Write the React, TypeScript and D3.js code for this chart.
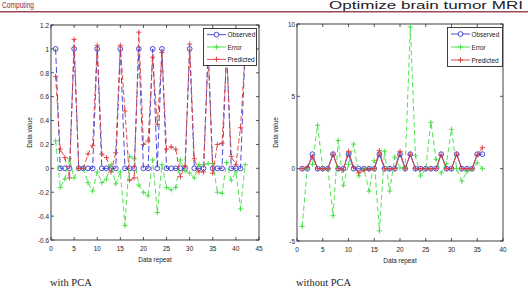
import React, { useRef, useEffect } from "react";
import * as d3 from "d3";

// with PCA (repeats 1..42)
const leftObserved = [1, 0, 0, 0, 1, 0, 0, 0, 0, 1, 0, 0, 0, 0, 1, 0, 0, 0, 1, 0, 0, 1, 0, 1, 0, 0, 0, 0, 0, 1, 0, 0, 0, 1, 0, 0, 0, 1, 0, 0, 0, 1];
const leftPredicted = [0.77, 0.16, 0.09, -0.08, 1.08, 0.0, 0.0, 0.12, 0.19, 1.03, 0.12, 0.09, -0.03, 0.13, 1.03, 0.48, -0.1, -0.08, 1.14, 0.2, 0.23, 0.93, 0.37, 0.97, 0.16, 0.18, 0.16, -0.07, 0.02, 1.04, 0.08, -0.03, -0.03, 0.96, -0.04, 0.2, 0.21, 0.95, 0.1, 0.03, 0.34, 0.97];
const leftError = [0.23, -0.16, -0.09, 0.08, -0.08, 0.0, 0.0, -0.12, -0.19, -0.03, -0.12, -0.09, 0.03, -0.13, -0.03, -0.48, 0.1, 0.08, -0.14, -0.2, -0.23, 0.07, -0.37, 0.03, -0.16, -0.18, -0.16, 0.07, -0.02, -0.04, -0.08, 0.03, 0.03, 0.04, 0.04, -0.2, -0.21, 0.05, -0.1, -0.03, -0.34, 0.03];

// without PCA (repeats 1..36)
const rightObserved = [0, 0, 1, 0, 0, 0, 1, 0, 0, 1, 0, 0, 0, 0, 0, 1, 0, 0, 0, 1, 0, 1, 0, 0, 0, 0, 0, 1, 0, 0, 1, 0, 0, 0, 1, 1];
const rightPredicted = [0.0, 0.1, 0.8, 0.0, 0.0, 0.0, 1.0, 0.0, -0.1, 1.2, 0.1, -0.3, -0.1, -0.05, 0.0, 1.25, 0.0, 0.0, 0.0, 1.2, 0.0, 1.0, 0.0, 0.0, 0.0, 0.0, 0.0, 0.95, 0.0, 0.0, 1.0, 0.0, 0.0, 0.0, 0.95, 1.45];
const rightError = [-4.0, 0.0, 0.3, 3.0, 0.0, 0.0, -3.25, 1.95, -1.15, 0.3, 1.7, -0.5, 0.0, -1.55, 0.55, -4.3, 1.2, -1.55, 0.8, 0.05, 0.1, 9.8, 0.9, -0.5, 0.0, 3.2, 0.65, -0.3, 0.35, 2.72, 0.0, -0.86, -0.2, 0.0, 0.4, 0.0];

const leftXTicks = [0, 5, 10, 15, 20, 25, 30, 35, 40, 45];
const leftYTicks = [-0.6, -0.4, -0.2, 0, 0.2, 0.4, 0.6, 0.8, 1, 1.2];
const rightXTicks = [0, 5, 10, 15, 20, 25, 30, 35, 40];
const rightYTicks = [-5, 0, 5, 10];

const seriesNames = ["Observed", "Error", "Predicted"];
const captions = ["with PCA", "without PCA"];
const xTitle = "Data repeat";
const yTitle = "Data value";
const headerLeft = "Computing";
const headerRight = "Optimize brain tumor MRI";

const BLUE = "#3535d2";
const GREEN = "#3ede3e";
const RED = "#da3c3c";
const AXIS = "#2b2b2b";
const SANS = "'Liberation Sans', Arial, sans-serif";

type Sel = d3.Selection<any, unknown, null, undefined>;

type Panel = {
  observed: number[];
  predicted: number[];
  error: number[];
  xDomain: [number, number];
  yDomain: [number, number];
  xRange: [number, number];
  yRange: [number, number];
  xTicks: number[];
  yTicks: number[];
  solidFit: boolean;
  legend: { x: number; y: number; w: number; h: number };
  caption: string;
  captionX: number;
};

const panels: Panel[] = [
  {
    observed: leftObserved,
    predicted: leftPredicted,
    error: leftError,
    xDomain: [0, 45],
    yDomain: [-0.6, 1.2],
    xRange: [51, 259],
    yRange: [240, 25],
    xTicks: leftXTicks,
    yTicks: leftYTicks,
    solidFit: false,
    legend: { x: 203.5, y: 28.5, w: 53, h: 37 },
    caption: captions[0],
    captionX: 50,
  },
  {
    observed: rightObserved,
    predicted: rightPredicted,
    error: rightError,
    xDomain: [0, 40],
    yDomain: [-5, 10],
    xRange: [297, 503],
    yRange: [241, 24],
    xTicks: rightXTicks,
    yTicks: rightYTicks,
    solidFit: true,
    legend: { x: 447.5, y: 27.5, w: 55, h: 39 },
    caption: captions[1],
    captionX: 296,
  },
];

const plusPath = (s: number) => `M${-s},0H${s}M0,${-s}V${s}`;

// narrow axis lettering, squeezed horizontally
function narrowText(g: Sel, x: number, y: number, txt: string, anchor = "middle", rotate = 0) {
  return g.append("text")
    .attr("transform", `translate(${x},${y}) rotate(${rotate}) scale(0.8,1)`)
    .attr("text-anchor", anchor)
    .attr("font-size", 8)
    .attr("font-family", SANS)
    .attr("fill", "#222")
    .text(txt);
}

function drawPanel(svg: Sel, p: Panel) {
  const x = d3.scaleLinear().domain(p.xDomain).range(p.xRange);
  const y = d3.scaleLinear().domain(p.yDomain).range(p.yRange);
  const g = svg.append("g");
  const [x0, x1] = p.xRange;
  const [yb, yt] = p.yRange;

  // frame with inward ticks on all four sides
  g.append("rect")
    .attr("x", x0).attr("y", yt)
    .attr("width", x1 - x0).attr("height", yb - yt)
    .attr("fill", "#fff").attr("stroke", AXIS).attr("stroke-width", 0.9);

  const tickLen = 3;
  p.xTicks.forEach((t) => {
    const px = x(t);
    g.append("line").attr("x1", px).attr("x2", px).attr("y1", yb).attr("y2", yb - tickLen).attr("stroke", AXIS).attr("stroke-width", 0.8);
    g.append("line").attr("x1", px).attr("x2", px).attr("y1", yt).attr("y2", yt + tickLen).attr("stroke", AXIS).attr("stroke-width", 0.8);
    narrowText(g, px, yb + 10.5, String(t));
  });
  p.yTicks.forEach((t) => {
    const py = y(t);
    g.append("line").attr("x1", x0).attr("x2", x0 + tickLen).attr("y1", py).attr("y2", py).attr("stroke", AXIS).attr("stroke-width", 0.8);
    g.append("line").attr("x1", x1).attr("x2", x1 - tickLen).attr("y1", py).attr("y2", py).attr("stroke", AXIS).attr("stroke-width", 0.8);
    narrowText(g, x0 - 2, py + 2.8, String(+t.toFixed(1)), "end");
  });

  narrowText(g, (x0 + x1) / 2, yb + 21.5, xTitle);
  narrowText(g, x0 - 19, (yb + yt) / 2, yTitle, "middle", -90);

  const line = d3.line<number>().x((d, i) => x(i + 1)).y((d) => y(d));

  const series = [
    { data: p.observed, color: BLUE, dash: p.solidFit ? null : "6,3", marker: "circle" },
    { data: p.error, color: GREEN, dash: "5,3", marker: "plus" },
    { data: p.predicted, color: RED, dash: p.solidFit ? null : "5,2.5", marker: "plus" },
  ];

  series.forEach((s) => {
    g.append("path").datum(s.data).attr("d", line)
      .attr("fill", "none").attr("stroke", s.color).attr("stroke-width", 0.9)
      .attr("stroke-dasharray", s.dash);
    const marks = g.append("g").selectAll("g").data(s.data).join("g")
      .attr("transform", (d, i) => `translate(${x(i + 1)},${y(d)})`);
    if (s.marker === "circle") {
      marks.append("circle").attr("r", 2.4).attr("fill", "none").attr("stroke", s.color).attr("stroke-width", 0.9);
    } else {
      marks.append("path").attr("d", plusPath(2.6)).attr("stroke", s.color).attr("stroke-width", 0.9);
    }
  });

  // legend
  const L = p.legend;
  const lg = g.append("g");
  lg.append("rect").attr("x", L.x).attr("y", L.y).attr("width", L.w).attr("height", L.h)
    .attr("fill", "#fff").attr("stroke", AXIS).attr("stroke-width", 0.9);
  const rowH = L.h / 3;
  series.forEach((s, i) => {
    const cy = L.y + rowH * (i + 0.5);
    const lx0 = L.x + 3.5;
    const lx1 = L.x + 22.5;
    lg.append("line").attr("x1", lx0).attr("x2", lx1).attr("y1", cy).attr("y2", cy)
      .attr("stroke", s.color).attr("stroke-width", 0.9);
    const mx = (lx0 + lx1) / 2;
    if (s.marker === "circle") {
      lg.append("circle").attr("cx", mx).attr("cy", cy).attr("r", 2.4).attr("fill", "#fff").attr("stroke", s.color).attr("stroke-width", 0.9);
    } else {
      lg.append("path").attr("transform", `translate(${mx},${cy})`).attr("d", plusPath(2.6)).attr("stroke", s.color).attr("stroke-width", 0.9);
    }
    narrowText(lg, lx1 + 1.5, cy + 2.8, seriesNames[i], "start");
  });

  svg.append("text").attr("x", p.captionX).attr("y", 286)
    .attr("font-size", 10.5).attr("font-family", "'Liberation Serif', 'Times New Roman', serif")
    .attr("fill", "#222").text(p.caption);
}

export default function App() {
  const ref = useRef<SVGSVGElement>(null);

  useEffect(() => {
    const svg = d3.select(ref.current!) as Sel;
    svg.selectAll("*").remove();

    svg.append("rect").attr("width", 528).attr("height", 299).attr("fill", "#fff");

    // page header strip
    svg.append("text").attr("x", 2).attr("y", 7.5)
      .attr("font-size", 9).attr("font-family", SANS)
      .attr("textLength", 32).attr("lengthAdjust", "spacingAndGlyphs")
      .attr("fill", "#8a2a3a").text(headerLeft);
    svg.append("text").attr("x", 329).attr("y", 9)
      .attr("font-size", 11.5).attr("font-family", SANS)
      .attr("textLength", 194).attr("lengthAdjust", "spacingAndGlyphs")
      .attr("fill", "#222").text(headerRight);
    svg.append("line").attr("x1", 0).attr("x2", 528).attr("y1", 11.8).attr("y2", 11.8)
      .attr("stroke", "#9a4858").attr("stroke-width", 1.5);

    panels.forEach((p) => drawPanel(svg, p));
  }, []);

  return (
    <svg ref={ref} width={528} height={299}
      style={{ position: "absolute", left: 0, top: 0, display: "block" }} />
  );
}
